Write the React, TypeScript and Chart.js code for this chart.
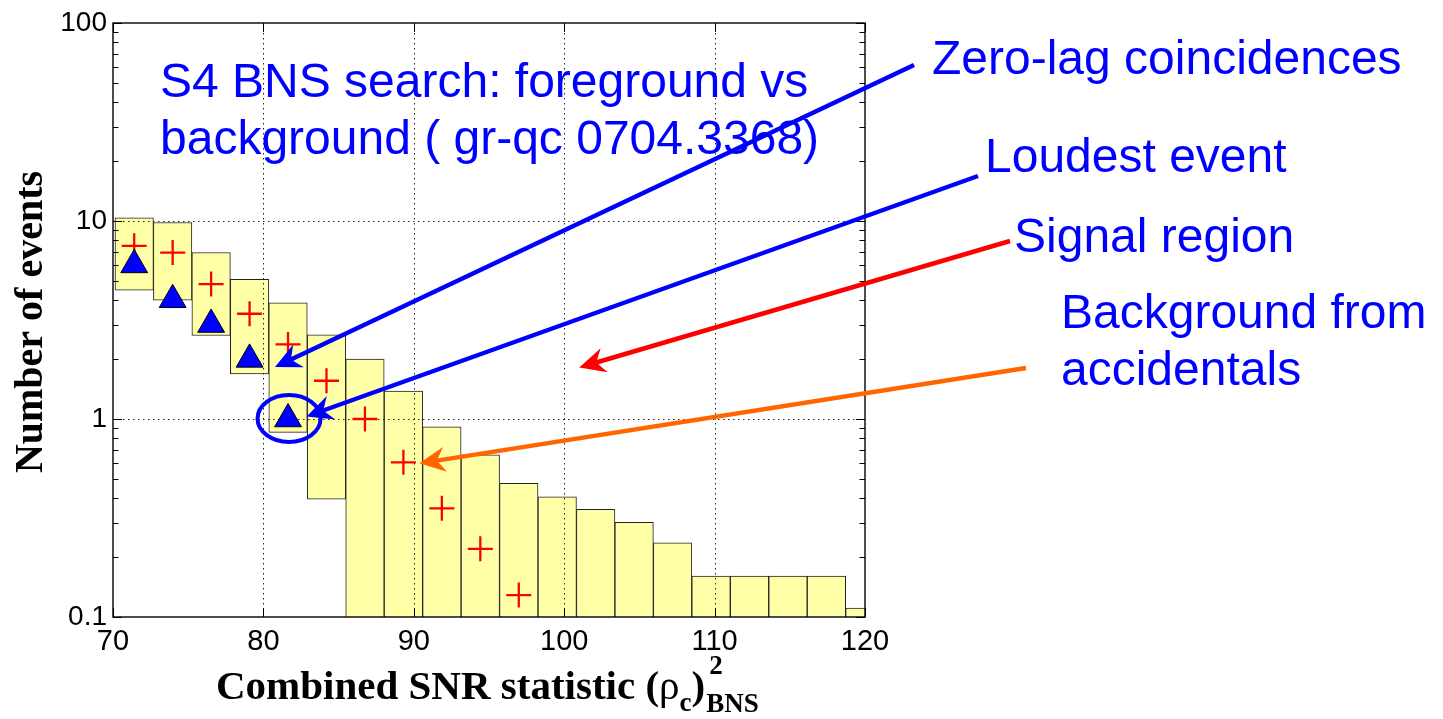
import React, { useEffect, useRef } from "react";
import { Chart, registerables } from "chart.js";

Chart.register(...registerables);

// ---- data ----
const binCenters = [71.41, 73.967, 76.524, 79.081, 81.638, 84.195, 86.752, 89.309, 91.866, 94.423, 96.98, 99.537, 102.094, 104.651, 107.208, 109.765, 112.322, 114.879, 117.436, 119.993];
const bgUpper = [10.37, 9.83, 6.93, 5.07, 3.86, 2.66, 2.01, 1.383, 0.913, 0.66, 0.473, 0.404, 0.35, 0.301, 0.237, 0.161, 0.161, 0.161, 0.161, 0.111];
const bgLower = [4.47, 3.98, 2.64, 1.69, 0.856, 0.394, 0, 0, 0, 0, 0, 0, 0, 0, 0, 0, 0, 0, 0, 0];
const bgMean = [7.49, 6.93, 4.8, 3.4, 2.38, 1.56, 1.0, 0.604, 0.354, 0.221, 0.129];
const zeroLag = [6, 4, 3, 2, 1];
const xTicks = [70, 80, 90, 100, 110, 120];
const yTicks = [0.1, 1, 10, 100];

// loudest event (data coords) for the circle
const loudestX = binCenters[4];
const loudestY = zeroLag[4];

// annotation texts (page pixels, baseline)
const annotations = [
  { text: "S4 BNS search: foreground vs", x: 160, y: 97 },
  { text: "background ( gr-qc 0704.3368)", x: 160, y: 154 },
  { text: "Zero-lag coincidences", x: 932, y: 73.5 },
  { text: "Loudest event", x: 985, y: 172 },
  { text: "Signal region", x: 1014, y: 252 },
  { text: "Background from", x: 1061, y: 328 },
  { text: "accidentals", x: 1061, y: 385 },
];

// arrows: tail in page pixels, tip in data coordinates
const arrows = [
  { color: "#0000FF", from: [914, 65], tip: [80.77, 1.83] },
  { color: "#0000FF", from: [978, 176], tip: [82.87, 1.03] },
  { color: "#FF0000", from: [1010, 241], tip: [101.0, 1.82] },
  { color: "#FF6600", from: [1026, 368], tip: [90.37, 0.597] },
];

const LOG_FLOOR = 0.01;

function drawArrow(ctx: CanvasRenderingContext2D, x0: number, y0: number, x1: number, y1: number, color: string) {
  const L = 26, W = 12.5, notch = 0.68, lw = 4.5;
  const dx = x1 - x0, dy = y1 - y0;
  const len = Math.hypot(dx, dy);
  const ux = dx / len, uy = dy / len;
  const nx = -uy, ny = ux;
  ctx.save();
  ctx.strokeStyle = color;
  ctx.fillStyle = color;
  ctx.lineWidth = lw;
  ctx.lineCap = "butt";
  ctx.beginPath();
  ctx.moveTo(x0, y0);
  ctx.lineTo(x1 - ux * L * notch, y1 - uy * L * notch);
  ctx.stroke();
  ctx.beginPath();
  ctx.moveTo(x1, y1);
  ctx.lineTo(x1 - ux * L + nx * W, y1 - uy * L + ny * W);
  ctx.lineTo(x1 - ux * L * notch, y1 - uy * L * notch);
  ctx.lineTo(x1 - ux * L - nx * W, y1 - uy * L - ny * W);
  ctx.closePath();
  ctx.fill();
  ctx.restore();
}

const framePlugin = {
  id: "matlabFrame",
  afterDatasetDraw(chart: any, args: any) {
    if (args.index !== 0) return;
    const { ctx, chartArea: a, scales } = chart;
    const x = scales.x, y = scales.y;
    ctx.save();
    ctx.strokeStyle = "#222";
    ctx.lineWidth = 1;
    ctx.setLineDash([1.5, 3.5]);
    for (const v of xTicks) {
      if (v === xTicks[0] || v === xTicks[xTicks.length - 1]) continue;
      const px = Math.round(x.getPixelForValue(v)) + 0.5;
      ctx.beginPath();
      ctx.moveTo(px, a.top);
      ctx.lineTo(px, a.bottom);
      ctx.stroke();
    }
    for (const v of yTicks) {
      if (v === yTicks[0] || v === yTicks[yTicks.length - 1]) continue;
      const py = Math.round(y.getPixelForValue(v)) + 0.5;
      ctx.beginPath();
      ctx.moveTo(a.left, py);
      ctx.lineTo(a.right, py);
      ctx.stroke();
    }
    ctx.restore();
  },
  afterDraw(chart: any) {
    const { ctx, chartArea: a, scales } = chart;
    const x = scales.x, y = scales.y;
    ctx.save();
    // box
    ctx.strokeStyle = "#000";
    ctx.lineWidth = 1.4;
    ctx.strokeRect(a.left, a.top, a.right - a.left, a.bottom - a.top);
    // ticks
    ctx.lineWidth = 1;
    ctx.beginPath();
    for (const v of xTicks) {
      const px = Math.round(x.getPixelForValue(v)) + 0.5;
      ctx.moveTo(px, a.bottom);
      ctx.lineTo(px, a.bottom - 9);
      ctx.moveTo(px, a.top);
      ctx.lineTo(px, a.top + 9);
    }
    for (const v of yTicks) {
      const py = Math.round(y.getPixelForValue(v)) + 0.5;
      ctx.moveTo(a.left, py);
      ctx.lineTo(a.left + 9, py);
      ctx.moveTo(a.right, py);
      ctx.lineTo(a.right - 9, py);
    }
    for (let d = 0; d < yTicks.length - 1; d++) {
      for (let k = 2; k <= 9; k++) {
        const py = Math.round(y.getPixelForValue(yTicks[d] * k)) + 0.5;
        ctx.moveTo(a.left, py);
        ctx.lineTo(a.left + 5.5, py);
        ctx.moveTo(a.right, py);
        ctx.lineTo(a.right - 5.5, py);
      }
    }
    ctx.stroke();

    // axis titles
    ctx.fillStyle = "#000";
    ctx.textBaseline = "alphabetic";
    ctx.save();
    ctx.translate(42, (a.top + a.bottom) / 2 + 2);
    ctx.rotate(-Math.PI / 2);
    ctx.textAlign = "center";
    ctx.font = 'bold 40px "Liberation Serif", "Times New Roman", serif';
    ctx.fillText("Number of events", 0, 0);
    ctx.restore();

    ctx.textAlign = "left";
    let cx = 216;
    const base = 699;
    const big = 'bold 41px "Liberation Serif", "Times New Roman", serif';
    const greek = '41px "Liberation Serif", "Times New Roman", serif';
    const small = 'bold 27px "Liberation Serif", "Times New Roman", serif';
    ctx.font = big;
    ctx.fillText("Combined SNR statistic (", cx, base);
    cx += ctx.measureText("Combined SNR statistic (").width;
    ctx.font = greek;
    ctx.fillText("ρ", cx, base);
    cx += ctx.measureText("ρ").width;
    ctx.font = small;
    ctx.fillText("c", cx, base + 12);
    cx += ctx.measureText("c").width;
    ctx.font = big;
    ctx.fillText(")", cx, base);
    cx += ctx.measureText(")").width + 1;
    ctx.font = small;
    ctx.fillText("2", cx + 3, base - 25);
    ctx.fillText("BNS", cx, base + 13);

    // circle around loudest event
    ctx.strokeStyle = "#0000FF";
    ctx.lineWidth = 4;
    ctx.beginPath();
    ctx.ellipse(x.getPixelForValue(loudestX) + 1, y.getPixelForValue(loudestY) - 0.5, 31.5, 23.5, 0, 0, Math.PI * 2);
    ctx.stroke();

    // arrows
    for (const ar of arrows) {
      drawArrow(ctx, ar.from[0], ar.from[1], x.getPixelForValue(ar.tip[0]), y.getPixelForValue(ar.tip[1]), ar.color);
    }

    // annotation text
    ctx.fillStyle = "#0000FF";
    ctx.font = '48px "Liberation Sans", Arial, sans-serif';
    ctx.textAlign = "left";
    for (const t of annotations) {
      ctx.fillText(t.text, t.x, t.y);
    }
    ctx.restore();
  },
};

export default function App() {
  const canvasRef = useRef<HTMLCanvasElement | null>(null);

  useEffect(() => {
    const canvas = canvasRef.current;
    if (!canvas) return;

    const barData = binCenters.map((c, i) => ({
      x: c,
      y: [Math.max(bgLower[i], LOG_FLOOR), bgUpper[i]],
    }));
    const meanData = bgMean.map((v, i) => ({ x: binCenters[i], y: v }));
    const zeroLagData = zeroLag.map((v, i) => ({ x: binCenters[i], y: v }));

    const chart = new Chart(canvas, {
      type: "scatter",
      data: {
        datasets: [
          {
            type: "bar",
            label: "Background (mean ± σ)",
            data: barData as any,
            backgroundColor: "rgb(255,255,168)",
            borderColor: "#222",
            borderWidth: 1,
            borderSkipped: false,
            barPercentage: 1,
            categoryPercentage: 1,
            clip: 0,
            order: 3,
          } as any,
          {
            type: "scatter",
            label: "Background mean",
            data: meanData,
            pointStyle: "cross",
            pointRadius: 12.5,
            pointHoverRadius: 12.5,
            borderColor: "#FF0000",
            backgroundColor: "#FF0000",
            borderWidth: 2.3,
            order: 2,
          },
          {
            type: "scatter",
            label: "Zero-lag coincidences",
            data: zeroLagData,
            pointStyle: "triangle",
            pointRadius: 15.5,
            pointHoverRadius: 15.5,
            backgroundColor: "#0000FF",
            borderColor: "#000",
            borderWidth: 1,
            order: 1,
          },
        ],
      },
      options: {
        responsive: false,
        maintainAspectRatio: false,
        animation: false,
        devicePixelRatio: 1,
        layout: { padding: { left: 0, top: 23, right: 578, bottom: 0 } },
        plugins: {
          legend: { display: false },
          tooltip: { enabled: false },
          title: { display: false },
        },
        scales: {
          x: {
            type: "linear",
            min: 70,
            max: 120,
            offset: false,
            afterBuildTicks: (s: any) => {
              s.ticks = xTicks.map((v) => ({ value: v }));
            },
            afterFit: (s: any) => {
              s.height = 102;
            },
            grid: { display: false, drawTicks: false },
            border: { display: false },
            ticks: {
              autoSkip: false,
              maxRotation: 0,
              color: "#000",
              padding: 8,
              font: { family: '"Liberation Sans", Arial, sans-serif', size: 29 },
              callback: (v: any) => String(v),
            },
          },
          y: {
            type: "logarithmic",
            min: 0.1,
            max: 100,
            afterBuildTicks: (s: any) => {
              s.ticks = yTicks.map((v) => ({ value: v }));
            },
            afterFit: (s: any) => {
              s.width = 113;
            },
            grid: { display: false, drawTicks: false },
            border: { display: false },
            ticks: {
              autoSkip: false,
              color: "#000",
              padding: 6,
              font: { family: '"Liberation Sans", Arial, sans-serif', size: 28 },
              callback: (v: any) => String(v),
            },
          },
        },
      } as any,
      plugins: [framePlugin],
    });

    return () => {
      chart.destroy();
    };
  }, []);

  return (
    <div style={{ position: "absolute", left: 0, top: 0, width: 1443, height: 719, background: "#fff" }}>
      <canvas ref={canvasRef} width={1443} height={719} style={{ display: "block" }} />
    </div>
  );
}
